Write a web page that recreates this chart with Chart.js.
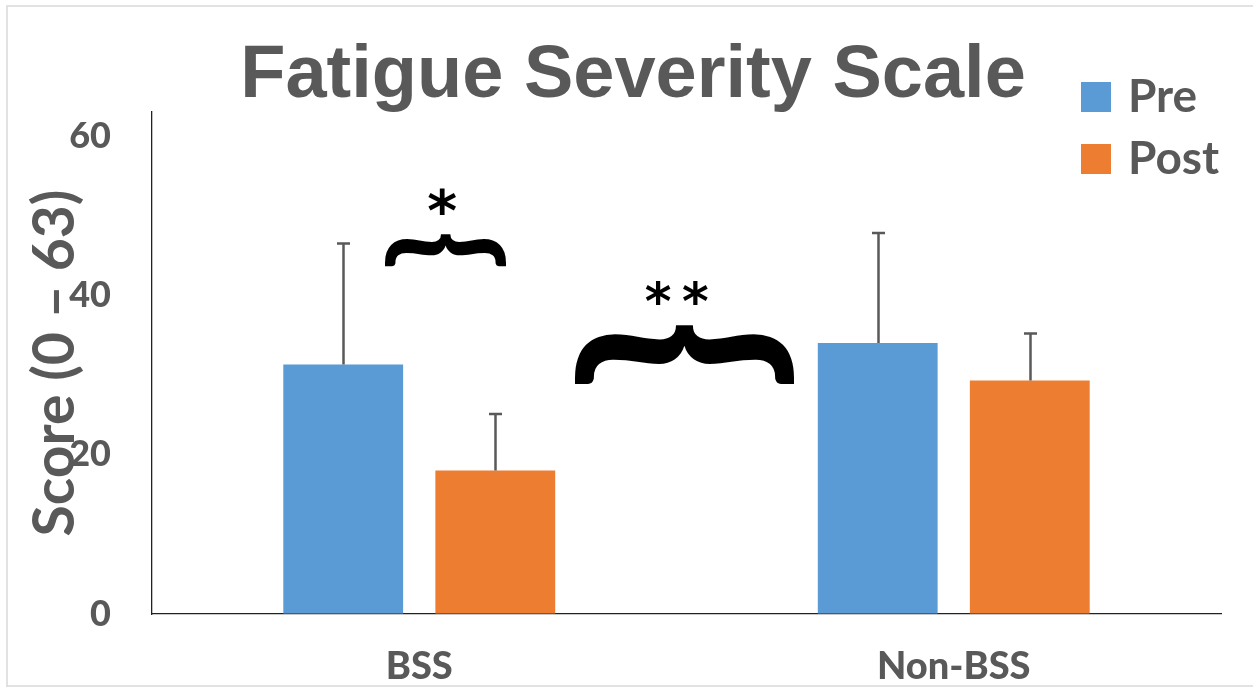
<!DOCTYPE html>
<html>
<head>
<meta charset="utf-8">
<script src="https://cdn.jsdelivr.net/npm/chart.js@4"></script>
<style>
  html, body { margin: 0; padding: 0; background: #ffffff; }
  #wrap { width: 1253px; height: 687px; position: relative; }
  canvas { display: block; }
</style>
</head>
<body>
<div id="wrap"><canvas id="c" width="1253" height="687"></canvas></div>
<script>
// ---- data ----
const categories = ['BSS', 'Non-BSS'];
const seriesLabels = ['Pre', 'Post'];
const preValues = [31.3, 34.0];
const postValues = [18.0, 29.3];
const preErrors = [15.2, 13.8];
const postErrors = [7.1, 5.9];
const yTicks = [0, 20, 40, 60];
const yMax = 63;
const chartTitle = 'Fatigue Severity Scale';
const yTitle = 'Score (0 – 63)';
// significance annotations (x in category units, y in score units)
const braceFrom = [-0.064, 0.293];
const braceTo = [0.164, 0.704];
const braceTop = [47.8, 36.5];
const braceBottom = [43.6, 28.8];
const starX = [0.043, 0.447, 0.517];
const starY = [51.8, 40.4, 40.4];

const GRAY = '#595959';
const BLUE = '#5B9BD5';
const ORANGE = '#ED7D31';

const decor = {
  id: 'decor',
  beforeDraw(chart) {
    const ctx = chart.ctx;
    ctx.save();
    ctx.fillStyle = '#ffffff';
    ctx.fillRect(0, 0, chart.width, chart.height);
    ctx.strokeStyle = '#D9D9D9';
    ctx.lineWidth = 1.5;
    ctx.beginPath();
    ctx.moveTo(7, 687); ctx.lineTo(7, 6); ctx.lineTo(1253, 6);
    ctx.moveTo(7, 686); ctx.lineTo(1253, 686);
    ctx.stroke();
    ctx.restore();
  },
  afterDatasetsDraw(chart) {
    const ctx = chart.ctx;
    const ys = chart.scales.y;
    const xs = chart.scales.x;
    ctx.save();
    // error bars (upper only)
    ctx.strokeStyle = GRAY;
    ctx.lineWidth = 2.5;
    chart.data.datasets.forEach((ds, i) => {
      const meta = chart.getDatasetMeta(i);
      meta.data.forEach((bar, j) => {
        const v = ds.data[j];
        const e = ds.errorValues[j];
        const x = Math.round(bar.x) + 0.5;
        const y0 = ys.getPixelForValue(v);
        const y1 = ys.getPixelForValue(v + e);
        ctx.beginPath();
        ctx.moveTo(x, y0); ctx.lineTo(x, y1);
        ctx.moveTo(x - 6.5, y1); ctx.lineTo(x + 6.5, y1);
        ctx.stroke();
      });
    });
    // braces
    ctx.fillStyle = '#000000';
    for (let k = 0; k < braceFrom.length; k++) {
      const x0 = xs.getPixelForValue(braceFrom[k]);
      const x1 = xs.getPixelForValue(braceTo[k]);
      const yT = ys.getPixelForValue(braceTop[k]);
      const yB = ys.getPixelForValue(braceBottom[k]);
      drawBrace(ctx, x0, x1, yT, yB);
    }
    // stars
    const starW = [28, 25, 25];
    for (let k = 0; k < starX.length; k++) {
      const cx = xs.getPixelForValue(starX[k]);
      const cy = ys.getPixelForValue(starY[k]);
      drawGlyphCentered(ctx, '*', 'DejaVu Sans', cx, cy, starW[k]);
    }
    ctx.restore();
  },
  afterDraw(chart) {
    const ctx = chart.ctx;
    ctx.save();
    // title
    ctx.fillStyle = GRAY;
    ctx.font = 'bold 74px "Liberation Sans", Arial, sans-serif';
    ctx.textAlign = 'center';
    ctx.textBaseline = 'alphabetic';
    ctx.fillText(chartTitle, 633, 97);
    // legend
    ctx.textAlign = 'left';
    ctx.font = 'bold 46px Lato, sans-serif';
    chart.data.datasets.forEach((ds, i) => {
      const top = 82 + i * 62;
      ctx.fillStyle = ds.backgroundColor;
      ctx.fillRect(1081, top, 30, 30);
      ctx.fillStyle = GRAY;
      ctx.fillText(ds.label, 1128, top + 30);
    });
    ctx.restore();
  }
};

function drawBrace(ctx, x0, x1, yT, yB) {
  ctx.save();
  ctx.font = 'bold 100px Lato, sans-serif';
  ctx.textAlign = 'left';
  ctx.textBaseline = 'alphabetic';
  const m = ctx.measureText('{');
  const gl = -m.actualBoundingBoxLeft, gr = m.actualBoundingBoxRight;
  const gt = -m.actualBoundingBoxAscent, gb = m.actualBoundingBoxDescent;
  const gw = gr - gl, gh = gb - gt;
  const Wt = x1 - x0, Ht = yB - yT;
  ctx.translate((x0 + x1) / 2, (yT + yB) / 2);
  ctx.rotate(Math.PI / 2);
  ctx.scale(Ht / gw, Wt / gh);
  ctx.fillText('{', -(gl + gr) / 2, -(gt + gb) / 2);
  ctx.restore();
}

function drawGlyphCentered(ctx, t, family, cx, cy, targetW) {
  ctx.save();
  ctx.font = 'bold 100px "' + family + '"';
  let m = ctx.measureText(t);
  const w100 = m.actualBoundingBoxLeft + m.actualBoundingBoxRight;
  const size = 100 * targetW / w100;
  ctx.font = 'bold ' + size + 'px "' + family + '"';
  ctx.textAlign = 'left';
  ctx.textBaseline = 'alphabetic';
  m = ctx.measureText(t);
  const l = -m.actualBoundingBoxLeft, r = m.actualBoundingBoxRight;
  const tp = -m.actualBoundingBoxAscent, b = m.actualBoundingBoxDescent;
  ctx.fillStyle = '#000000';
  ctx.fillText(t, cx - (l + r) / 2, cy - (tp + b) / 2);
  ctx.restore();
}

new Chart(document.getElementById('c'), {
  type: 'bar',
  data: {
    labels: categories,
    datasets: [
      { label: seriesLabels[0], data: preValues, errorValues: preErrors, backgroundColor: BLUE,
        categoryPercentage: 0.569, barPercentage: 0.788 },
      { label: seriesLabels[1], data: postValues, errorValues: postErrors, backgroundColor: ORANGE,
        categoryPercentage: 0.569, barPercentage: 0.788 }
    ]
  },
  options: {
    responsive: false,
    animation: false,
    devicePixelRatio: 1,
    layout: { padding: { top: 112, right: 32, left: 0, bottom: 0 } },
    plugins: { legend: { display: false }, title: { display: false }, tooltip: { enabled: false } },
    scales: {
      x: {
        grid: { display: true, drawOnChartArea: false, drawTicks: false },
        border: { display: true, color: '#222222', width: 1.3 },
        ticks: { color: GRAY, font: { family: 'Lato', weight: '900', size: 38 }, padding: 30 },
        afterFit(s) { s.height = 73; }
      },
      y: {
        min: 0, max: yMax,
        grid: { display: true, drawOnChartArea: false, drawTicks: false },
        border: { display: true, color: '#222222', width: 1.3 },
        ticks: { color: GRAY, font: { family: 'Lato', weight: '900', size: 36 }, padding: 41 },
        afterBuildTicks(s) { s.ticks = yTicks.map(v => ({ value: v })); },
        title: { display: true, text: yTitle, color: GRAY, font: { family: 'Lato', weight: 'bold', size: 57 }, padding: { top: 21, bottom: 0 } },
        afterFit(s) { s.width = 152; }
      }
    }
  },
  plugins: [decor]
});
</script>
</body>
</html>
